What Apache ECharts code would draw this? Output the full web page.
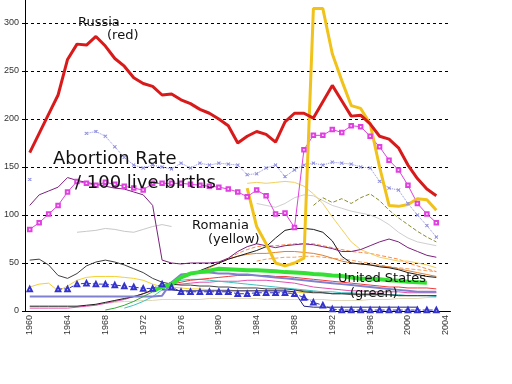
<!DOCTYPE html>
<html><head><meta charset="utf-8">
<script src="https://cdn.jsdelivr.net/npm/echarts@6/dist/echarts.min.js"></script>
<style>html,body{margin:0;padding:0;background:#fff}#c{width:512px;height:384px}</style>
</head><body><div id="c"></div>
<script>
// Category labels (years)
const years = ['1960','1961','1962','1963','1964','1965','1966','1967','1968','1969','1970','1971','1972','1973','1974','1975','1976','1977','1978','1979','1980','1981','1982','1983','1984','1985','1986','1987','1988','1989','1990','1991','1992','1993','1994','1995','1996','1997','1998','1999','2000','2001','2002','2003','2004'];
const yTicks = [0,50,100,150,200,250,300];

// Series values (abortions per 100 live births), each starting at the given year
const russiaStart = 1960;
const russia = [165,185,205,225,262,278,277,286,276,263,255,243,237,234,225,226,220,216,210,206,200,193,175,182,187,184,176,197,206,206,201,218,235,219,203,204,195,182,179,170,152,138,127,120];
const romaniaStart = 1983;
const romania = [128,88,70,50,47,50,55,315,315,268,240,214,211,195,150,110,109,111,117,116,105];
const usStart = 1973;
const unitedStates = [21,25,28,35,39,40.5,42,44,43.5,43,42.5,42.5,42,41.5,40.5,40,39.5,38.5,38,37,36.5,35,33.5,33.5,33,32,31.5,30.5,30,29.5];
const pinkSqStart = 1960;
const pinkSq = [85,92,101,110,124,135,133,131,134,132,130,128,126,133,133,133,133,132,131,130,129,127,124,119,126,120,101,102,87,168,183,183,189,186,193,192,182,171,157,147,131,112,101,92];
const blueXStart = 1960;
const blueX = [137,null,null,null,null,null,185,187,182,171,160,152,149,152,150,148,154,149,154,152,154,153,152,142,143,149,152,140,147,152,154,152,155,154,153,150,149,135,128,126,112,100,89,77];
const purpleStart = 1960;
const purple = [110,121,125,129,139,136,134,132,130,128,127,124,121,110,53,50,49,50,50,50,51,55,62,67,70,68,66,68,69,70,69,67,65,62,62,64,68,72,75,72,66,62,58,56];
const black1Start = 1960;
const black1 = [53,54,48,37,34,39,47,51,53,51,48,44,40,34,30,28,27,27,26,26,25,25,24,24,24,23,23,23,22,20,19,19,18,18,18,17,17,17,17,16,16,16,16,16];
const black2Start = 1960;
const black2 = [5,5,5,5,5,5,6,7,9,11,13,15,18,22,26,30,34,38,42,46,50,54,57,60,63,67,76,84,86,86,85,82,73,57,50,49,48,46,45,43,40,38,36,35];
const oliveStart = 1990;
const olive = [110,118,113,117,112,118,122,115,105,97,90,83,77,72];
const paleYellowStart = 1983;
const paleYellow = [133,134,133,134,135,134,130,122,112,98,85,72,64,60,56,54,52,52,50,48,45];
const gray1Start = 1965;
const gray1 = [82,83,84,86,85,83,82,85,88,90,88];
const gray2Start = 1984;
const gray2 = [112,110,108,112,118,121,120,115,110,107,104,102,100,96,90,82,76,72,70,68];
const orange1Start = 1980;
const orange1 = [50,55,60,64,67,68,68,69,70,70,70,68,66,64,62,61,60,58,56,54,50,47,44,41];
const orange2Start = 1978;
const orange2 = [40,45,50,54,57,59,60,60,61,62,62,61,60,58,55,52,50,49,48,47,46,44,42,40,38,36];
const salmonStart = 1984;
const salmon = [52,54,55,56,56,57,57,56,55,54,53,51,50,48,46,45,44,43,42,41];
const redThinStart = 1975;
const redThin = [28,30,32,33,34,35,36,37,37,37,37,36,36,35,34,33,32,31,30,29,28,27,26,25,25,24,24,24,23];
const periwinkleStart = 1960;
const periwinkle = [15,15,15,15,15,15,15,15,15,15,15,15,15,15,16,30,38,39,40,40,39,39,38,38,37,36,35,34,33,32,31,30,29,28,27,26,25,24,23,22,21,20,20,20];
const blueTriStart = 1960;
const blueTri = [23,null,null,23,23,28,29,28,28,27,26,25,23.5,23.5,28,25,20,20,20,20,20,20,18,18,19,19,19,19,18,14,9,6,2,1,1,1,1,1,1,1,1,1,1,1];
const navyStart = 1974;
const navy = [22,22,21,21,21,21,21,21,21,21,21,21,21,21,20,5,4,4,4,4,4,4,4,4,4,4,4,4];
const yellowThinStart = 1960;
const yellowThin = [25,28,29,21,26,32,35,36,36,36,35,34,32,28,25,25,24,23,23,22,22,22,21,21,21,21,21,20,20,19,19];
const pinkLowStart = 1960;
const pinkLow = [3,3,3,3,3,4,5,6,8,10,12,15,18,21,24,27,28,29,30,30,31,31,31,32,32,32,31,30,29,27,25,24,23,22,21,21,20,20,20,20,19,19,19,19];
const greenThinStart = 1968;
const greenThin = [1,3,6,10,15,20,24];
const tealStart = 1970;
const teal = [3,6,10,15,22,28,32,33,33,32,31,30,29,28,27,26,25,24,23,22,21,20,20,19,19,18,18,18,17,17,16,16,16,15];
const paleTanStart = 1968;
const paleTan = [8,9,10,10,11,11,12,12,12,12,12,13,13,13,13,13,13,12,12,12,12,12,12,12,11,11,11,11,12,12,12,13,13,13,14,14];
const darkGray2Start = 1988;
const darkGray2 = [22,21,20,19,18,18,17,17,17,17,17,16,16,16,16,16];

function pad(start, vals) {
  const out = years.map(() => null);
  vals.forEach((v, i) => { out[start - 1960 + i] = v; });
  return out;
}

const X_PATH = 'path://M0,1L1,0L5,4L9,0L10,1L6,5L10,9L9,10L5,6L1,10L0,9L4,5Z';

// [values, start, color, width, lineType, symbol, symbolSize]
const defs = [
  [paleTan, paleTanStart, '#E2D6B8', 1, 'solid'],
  [gray1, gray1Start, '#C8C8C8', 1, 'solid'],
  [gray2, gray2Start, '#CFCFCF', 1, 'solid'],
  [darkGray2, darkGray2Start, '#666666', 1, 'solid'],
  [pinkLow, pinkLowStart, '#E050B0', 1, 'solid'],
  [teal, tealStart, '#40BFC0', 1, 'solid'],
  [yellowThin, yellowThinStart, '#F4D030', 1, 'solid'],
  [redThin, redThinStart, '#F03A3A', 1, 'solid'],
  [salmon, salmonStart, '#F2A060', 1, 'dashed'],
  [orange2, orange2Start, '#E08030', 1, 'solid'],
  [orange1, orange1Start, '#FF8844', 1, 'dashed'],
  [paleYellow, paleYellowStart, '#F0D060', 1, 'solid'],
  [olive, oliveStart, '#8B8B30', 1, 'dashed'],
  [black1, black1Start, '#404040', 1, 'solid'],
  [black2, black2Start, '#1A1A1A', 1, 'solid'],
  [navy, navyStart, '#202080', 1, 'solid'],
  [periwinkle, periwinkleStart, '#8080D0', 2, 'solid'],
  [purple, purpleStart, '#7B1F7B', 1, 'solid'],
  [greenThin, greenThinStart, '#33AA33', 1, 'solid'],
  [blueTri, blueTriStart, '#3333CC', 1, 'dashed', 'emptyTriangle', 4.5],
  [blueX, blueXStart, '#9090E0', 1, 'dotted', X_PATH, 3],
  [pinkSq, pinkSqStart, '#E040E0', 1, 'solid', 'emptyRect', 3.5],
  [unitedStates, usStart, '#33E033', 4, 'solid'],
  [romania, romaniaStart, '#F0C21A', 3, 'solid'],
  [russia, russiaStart, '#D91A1A', 3, 'solid']
];

const series = defs.map(d => ({
  type: 'line',
  data: pad(d[1], d[0]),
  showSymbol: !!d[5],
  showAllSymbol: true,
  symbol: d[5] || 'none',
  symbolSize: d[6] || 0,
  connectNulls: false,
  lineStyle: { color: d[2], width: d[3], type: d[4] },
  itemStyle: { color: d[2], borderColor: d[2], borderWidth: 0.8 },
  emphasis: { disabled: true },
  silent: true,
  z: 2
}));

const txt = (x, y, s, size) => ({
  type: 'text', left: x, top: y - size * 0.6, z: 100,
  style: { text: s, fill: '#111', font: size + 'px "DejaVu Sans"' }
});

const chart = echarts.init(document.getElementById('c'), null, { renderer: 'canvas' });
chart.setOption({
  animation: false,
  backgroundColor: '#fff',
  grid: { left: 25, right: 61.5, top: -25, bottom: 73, outerBoundsMode: 'none', containLabel: false },
  xAxis: {
    type: 'category', data: years, boundaryGap: true,
    axisLine: { lineStyle: { color: '#000', width: 1 } },
    axisTick: { interval: 0, length: 3, lineStyle: { color: '#000' } },
    axisLabel: { interval: 3, rotate: 90, fontSize: 9, color: '#333', margin: 4, fontFamily: 'Liberation Sans' },
    splitLine: { show: false }
  },
  yAxis: {
    type: 'value', min: 0, max: 350, interval: 50,
    axisLine: { show: true, lineStyle: { color: '#000', width: 1 } },
    axisTick: { show: true, length: 3, lineStyle: { color: '#000' } },
    axisLabel: { fontSize: 9, color: '#333', margin: 6, fontFamily: 'Liberation Sans' },
    splitLine: { show: true, lineStyle: { color: '#000', type: [3, 3], width: 1 } }
  },
  series: series,
  graphic: [
    txt(78, 24, 'Russia', 13),
    txt(107, 37, '(red)', 13),
    txt(53, 161, 'Abortion Rate', 18),
    txt(75, 185, '/ 100 live births', 18),
    txt(192, 227, 'Romania', 13),
    txt(208, 241, '(yellow)', 13),
    txt(338, 280, 'United States', 13),
    txt(350, 295, '(green)', 13)
  ]
});
</script></body></html>
